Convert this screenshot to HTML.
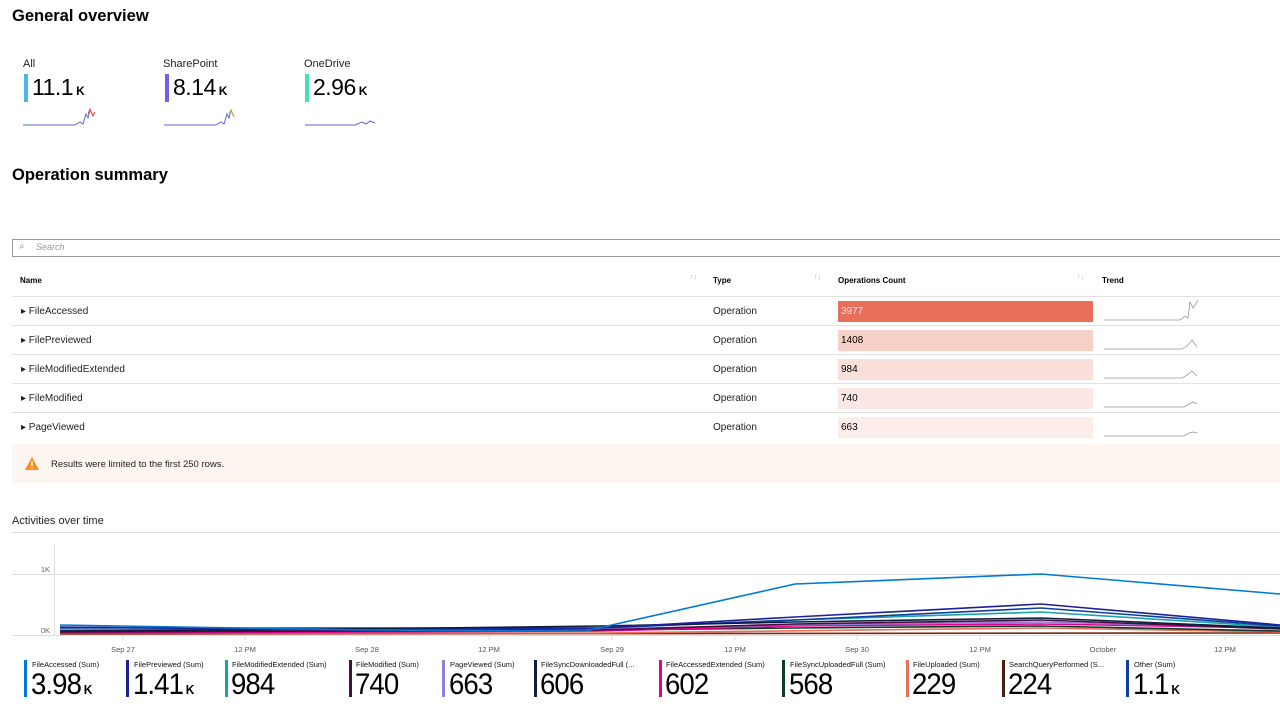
<!DOCTYPE html>
<html><head><meta charset="utf-8"><style>
*{margin:0;padding:0;box-sizing:border-box}
body{width:1280px;height:720px;overflow:hidden;background:#fff;font-family:"Liberation Sans",sans-serif;color:#000;position:relative}
.a{position:absolute;white-space:nowrap}
h1{position:absolute;font-size:16.5px;font-weight:bold}
.tl{font-size:11px;color:#222}
.bar{position:absolute;width:4px}
.big{font-size:23px;letter-spacing:-0.5px}
.big small{font-size:12px;font-weight:bold;letter-spacing:0;margin-left:3px}
.hd{font-size:8px;font-weight:bold}
.cell{font-size:10px;color:#222}
.ln{position:absolute;left:12px;right:0;height:1px;background:#e1e1e1}
.ob{position:absolute;left:838px;width:255px;height:21px;font-size:10px;padding:5px 0 0 3px}
.lg{font-size:7.5px;color:#111}
.lv{font-size:30px;letter-spacing:-1px;transform:scaleX(0.92);transform-origin:left}
.lv small{font-size:13px;font-weight:bold;letter-spacing:0;margin-left:3px}
</style></head><body>
<h1 style="left:12px;top:7px">General overview</h1>
<div class="a tl" style="left:23px;top:58px">All</div>
<div class="bar" style="left:24px;top:74px;height:28px;background:#4fb6ea"></div>
<div class="a big" style="left:32px;top:74px">11.1<small>K</small></div>
<div class="a tl" style="left:163px;top:58px">SharePoint</div>
<div class="bar" style="left:165px;top:74px;height:28px;background:#7b5ce8"></div>
<div class="a big" style="left:173px;top:74px">8.14<small>K</small></div>
<div class="a tl" style="left:304px;top:58px">OneDrive</div>
<div class="bar" style="left:305px;top:74px;height:28px;background:#3de0c0"></div>
<div class="a big" style="left:313px;top:74px">2.96<small>K</small></div>
<svg class="a" style="left:0;top:100px" width="400" height="30">
<polyline points="23,25 75,25 80,22 83,24 86,14 88,18 90,10" fill="none" stroke="#5a6ac8" stroke-width="1"/>
<polyline points="88,14 90,9 93,16 95,12" fill="none" stroke="#e04040" stroke-width="1"/>
<polyline points="164,25 216,25 221,22 224,24 227,14 229,18 231,10 234,17" fill="none" stroke="#5a6ac8" stroke-width="1"/>
<polyline points="229,14 231,10 234,17" fill="none" stroke="#e0a030" stroke-width="1"/>
<polyline points="305,25 355,25 362,22 366,24 370,21 375,23" fill="none" stroke="#5a6ac8" stroke-width="1"/>
</svg>
<h1 style="left:12px;top:166px">Operation summary</h1>
<div class="a" style="left:12px;top:239px;width:1270px;height:18px;border:1px solid #999"></div>
<div class="a" style="left:19px;top:241px;font-size:10px;color:#888">⌕</div>
<div class="a" style="left:36px;top:242px;font-size:9px;font-style:italic;color:#999">Search</div>
<div class="a hd" style="left:20px;top:276px">Name</div>
<div class="a hd" style="left:713px;top:276px">Type</div>
<div class="a hd" style="left:838px;top:276px">Operations Count</div>
<div class="a hd" style="left:1102px;top:276px">Trend</div>
<div class="a" style="left:690px;top:274px;font-size:7px;color:#aaa">↑↓</div>
<div class="a" style="left:814px;top:274px;font-size:7px;color:#aaa">↑↓</div>
<div class="a" style="left:1077px;top:274px;font-size:7px;color:#aaa">↑↓</div>
<div class="ln" style="top:296px"></div>
<div class="ln" style="top:325px"></div>
<div class="ln" style="top:354px"></div>
<div class="ln" style="top:383px"></div>
<div class="ln" style="top:412px"></div>
<div class="a cell" style="left:21px;top:306px">▸ FileAccessed</div>
<div class="a cell" style="left:21px;top:335px">▸ FilePreviewed</div>
<div class="a cell" style="left:21px;top:364px">▸ FileModifiedExtended</div>
<div class="a cell" style="left:21px;top:393px">▸ FileModified</div>
<div class="a cell" style="left:21px;top:422px">▸ PageViewed</div>
<div class="a cell" style="left:713px;top:306px">Operation</div>
<div class="a cell" style="left:713px;top:335px">Operation</div>
<div class="a cell" style="left:713px;top:364px">Operation</div>
<div class="a cell" style="left:713px;top:393px">Operation</div>
<div class="a cell" style="left:713px;top:422px">Operation</div>
<div class="ob" style="top:301px;background:#e8705a;color:#fde">3977</div>
<div class="ob" style="top:330px;background:#f7d0c8">1408</div>
<div class="ob" style="top:359px;background:#fae0db">984</div>
<div class="ob" style="top:388px;background:#fbe8e4">740</div>
<div class="ob" style="top:417px;background:#fcedea">663</div>
<svg class="a" style="left:1100px;top:296px" width="110" height="145" fill="none" stroke="#999" stroke-width="0.8">
<polyline points="4,24 80,24 85,20 88,22 90,6 93,12 98,4"/>
<polyline points="4,53 82,53 87,50 92,44 97,51"/>
<polyline points="4,82 82,82 87,79 92,75 97,80"/>
<polyline points="4,111 84,111 89,108 93,106 97,108"/>
<polyline points="4,140 84,140 89,137 93,136 97,137"/>
</svg>
<div class="a" style="left:12px;top:444px;width:1268px;height:39px;background:#fdf5ef"></div>
<svg class="a" style="left:25px;top:457px" width="14" height="13"><polygon points="7,0 14,13 0,13" fill="#f7901e"/><rect x="6.3" y="4" width="1.4" height="5" fill="#fff"/><rect x="6.3" y="10" width="1.4" height="1.4" fill="#fff"/></svg>
<div class="a" style="left:51px;top:459px;font-size:9.5px;color:#222">Results were limited to the first 250 rows.</div>
<div class="a" style="left:12px;top:515px;font-size:11px;color:#222">Activities over time</div>
<div class="ln" style="top:532px"></div>
<svg class="a" style="left:0;top:540px" width="1280" height="120">
<line x1="12" y1="34.5" x2="1280" y2="34.5" stroke="#ddd"/>
<line x1="12" y1="95.5" x2="1280" y2="95.5" stroke="#ddd"/>
<line x1="54.5" y1="4" x2="54.5" y2="96" stroke="#ddd"/>
<text x="50" y="32" font-size="7.5" fill="#666" text-anchor="end" font-family="Liberation Sans">1K</text>
<text x="50" y="93" font-size="7.5" fill="#666" text-anchor="end" font-family="Liberation Sans">0K</text>
<g fill="none" stroke-width="1.6">
<polyline stroke="#7a2a10" points="60,94 1280,93"/>
<polyline stroke="#e8705a" points="60,93 600,93 1041,88 1280,92"/>
<polyline stroke="#0b3b2c" points="60,92 600,90 795,88 1041,86 1280,91"/>
<polyline stroke="#e3008c" points="60,93 600,91 795,86 1041,84 1280,88"/>
<polyline stroke="#8f7fd6" points="60,90 600,89 795,85 1041,82 1280,88"/>
<polyline stroke="#4b0b3f" points="60,92 600,90 795,84 1041,80 1280,89"/>
<polyline stroke="#1aa3a8" points="60,90 600,88 795,80 1041,72 1280,87"/>
<polyline stroke="#0e3e9e" points="60,88 600,88 795,80 1041,68 1280,86"/>
<polyline stroke="#0b1f3d" points="60,91 360,89 600,86 795,82 1041,78 1280,88"/>
<polyline stroke="#1f1f99" points="60,87 360,90 600,88 795,77 1041,64 1280,85"/>
<polyline stroke="#0078d4" points="60,85 360,90 585,91 795,44 1041,34 1280,54"/>
</g>
<g stroke="#ddd"><line x1="123" y1="96" x2="123" y2="100"/><line x1="245" y1="96" x2="245" y2="100"/><line x1="367" y1="96" x2="367" y2="100"/><line x1="489" y1="96" x2="489" y2="100"/><line x1="612" y1="96" x2="612" y2="100"/><line x1="735" y1="96" x2="735" y2="100"/><line x1="857" y1="96" x2="857" y2="100"/><line x1="980" y1="96" x2="980" y2="100"/><line x1="1103" y1="96" x2="1103" y2="100"/><line x1="1225" y1="96" x2="1225" y2="100"/></g>
<g font-size="7.5" fill="#555" text-anchor="middle" font-family="Liberation Sans">
<text x="123" y="112">Sep 27</text><text x="245" y="112">12 PM</text><text x="367" y="112">Sep 28</text><text x="489" y="112">12 PM</text><text x="612" y="112">Sep 29</text><text x="735" y="112">12 PM</text><text x="857" y="112">Sep 30</text><text x="980" y="112">12 PM</text><text x="1103" y="112">October</text><text x="1225" y="112">12 PM</text>
</g>
</svg>
<div class="bar" style="left:24px;top:660px;height:37px;width:3px;background:#0078d4"></div><div class="a lg" style="left:32px;top:660px">FileAccessed (Sum)</div><div class="a lv" style="left:31px;top:668px">3.98<small>K</small></div>
<div class="bar" style="left:126px;top:660px;height:37px;width:3px;background:#1f1f99"></div><div class="a lg" style="left:134px;top:660px">FilePreviewed (Sum)</div><div class="a lv" style="left:133px;top:668px">1.41<small>K</small></div>
<div class="bar" style="left:225px;top:660px;height:37px;width:3px;background:#1aa3a8"></div><div class="a lg" style="left:232px;top:660px">FileModifiedExtended (Sum)</div><div class="a lv" style="left:231px;top:668px">984</div>
<div class="bar" style="left:349px;top:660px;height:37px;width:3px;background:#4b0b3f"></div><div class="a lg" style="left:356px;top:660px">FileModified (Sum)</div><div class="a lv" style="left:355px;top:668px">740</div>
<div class="bar" style="left:442px;top:660px;height:37px;width:3px;background:#8f7fd6"></div><div class="a lg" style="left:450px;top:660px">PageViewed (Sum)</div><div class="a lv" style="left:449px;top:668px">663</div>
<div class="bar" style="left:534px;top:660px;height:37px;width:3px;background:#0b1f3d"></div><div class="a lg" style="left:541px;top:660px">FileSyncDownloadedFull (...</div><div class="a lv" style="left:540px;top:668px">606</div>
<div class="bar" style="left:659px;top:660px;height:37px;width:3px;background:#e3008c"></div><div class="a lg" style="left:666px;top:660px">FileAccessedExtended (Sum)</div><div class="a lv" style="left:665px;top:668px">602</div>
<div class="bar" style="left:782px;top:660px;height:37px;width:3px;background:#0b3b2c"></div><div class="a lg" style="left:790px;top:660px">FileSyncUploadedFull (Sum)</div><div class="a lv" style="left:789px;top:668px">568</div>
<div class="bar" style="left:906px;top:660px;height:37px;width:3px;background:#e8705a"></div><div class="a lg" style="left:913px;top:660px">FileUploaded (Sum)</div><div class="a lv" style="left:912px;top:668px">229</div>
<div class="bar" style="left:1002px;top:660px;height:37px;width:3px;background:#4d1f10"></div><div class="a lg" style="left:1009px;top:660px">SearchQueryPerformed (S...</div><div class="a lv" style="left:1008px;top:668px">224</div>
<div class="bar" style="left:1126px;top:660px;height:37px;width:3px;background:#0e3e9e"></div><div class="a lg" style="left:1134px;top:660px">Other (Sum)</div><div class="a lv" style="left:1133px;top:668px">1.1<small>K</small></div>
</body></html>
